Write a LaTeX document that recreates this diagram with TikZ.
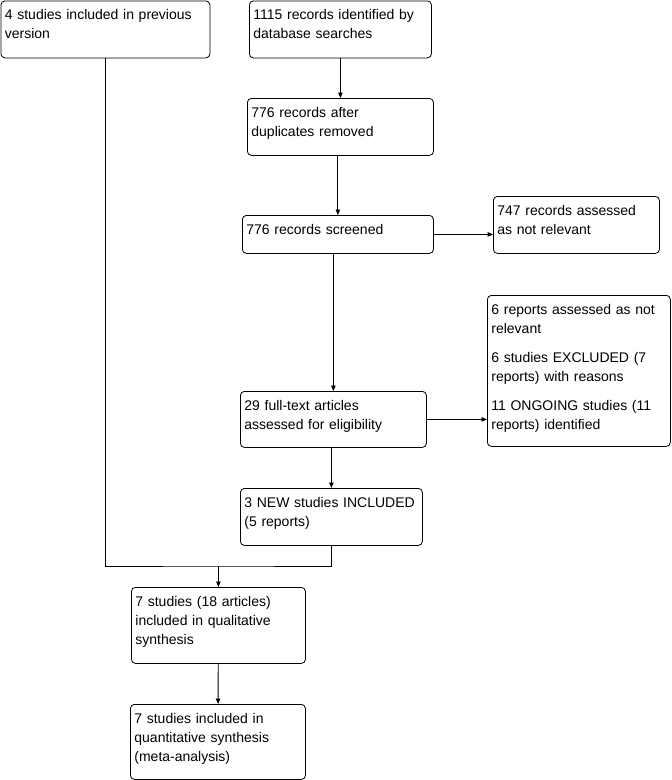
\documentclass[tikz,border=0pt]{standalone}
\usepackage{fontspec}
\setmainfont{Liberation Sans}
\usetikzlibrary{arrows.meta,positioning,calc}

\begin{document}
\begin{tikzpicture}[
    x=1pt, y=-1pt,
    box/.style={rectangle, draw, line width=0.8pt, rounded corners=4pt,
                anchor=north west, align=left, inner xsep=4pt, inner ysep=0pt,
                text height=19pt, font=\fontsize{14}{19}\selectfont},
    arr/.style={line width=0.9pt, -{Triangle[length=5.5pt,width=4.5pt]}},
    link/.style={line width=0.9pt}
]
\useasboundingbox (0,0) rectangle (672,780);

% Identification
\node[box, text width=201pt, text depth=38pt] (prev) at (0.5,0.5)
    {4 studies included in previous\\version};
\node[box, text width=174pt, text depth=38pt] (ident) at (249,0.5)
    {1115 records identified by\\database searches};
\node[box, text width=178pt, text depth=38pt] (dupl) at (247,98)
    {776 records after\\duplicates removed};

% Screening
\node[box, text width=183pt, text depth=19pt] (screen) at (242,215)
    {776 records screened};
\node[box, text width=158pt, text depth=38pt] (notrel) at (493,196)
    {747 records assessed\\as not relevant};

% Eligibility
\node[box, text width=175pt, text depth=132pt] (excl) at (487,295)
    {6 reports assessed as not\\relevant\\[10pt]
     6 studies EXCLUDED (7\\reports) with reasons\\[10pt]
     11 ONGOING studies (11\\reports) identified};
\node[box, text width=178pt, text depth=37pt] (full) at (240,391)
    {29 full-text articles\\assessed for eligibility};
\node[box, text width=174pt, text depth=38pt] (new) at (240,488)
    {3 NEW studies INCLUDED\\(5 reports)};

% Included
\node[box, text width=166pt, text depth=57pt] (qual) at (131,587)
    {7 studies (18 articles)\\included in qualitative\\synthesis};
\node[box, text width=167pt, text depth=56pt] (quant) at (130,704)
    {7 studies included in\\quantitative synthesis\\(meta-analysis)};

% Connectors
\draw[arr] (ident) -- (dupl);
\draw[arr] (dupl.south -| screen.north) -- (screen);
\draw[arr] (screen) -- (notrel.west |- screen);
\draw[arr] (screen.south -| full.north) -- (full);
\draw[arr] (full) -- (excl.west |- full);
\draw[arr] (full.south -| new.north) -- (new);

% Merge of previous and new studies
\coordinate (join) at ([yshift=21pt]qual.north);
\draw[link] (prev) |- (join) -| (new);
\draw[arr] (join) -- (qual);
\draw[arr] (qual) -- (quant);

\end{tikzpicture}
\end{document}
